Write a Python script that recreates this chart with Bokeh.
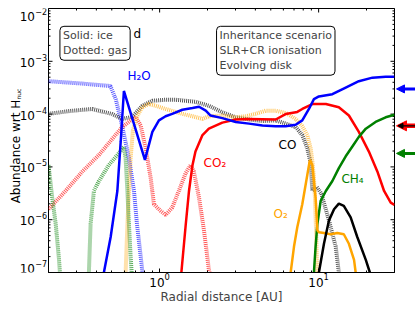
import math
from bokeh.plotting import figure
from bokeh.layouts import row
from bokeh.models import Label, Arrow, NormalHead, FixedTicker, Range1d
from bokeh.core.properties import value
from bokeh.embed import file_html
from bokeh.resources import INLINE

nan = float("nan")

# ---------------- data (radial distance in AU, abundance wrt H_nuc) ----------------
h2o_gas_r = [0.20, 0.32, 0.49, 0.53, 0.58, 0.64, 0.69, 0.72, 0.76, 0.78]
h2o_gas = [4.2e-4, 3.8e-4, 3.4e-4, 1.9e-4, 6.1e-5, 1.5e-5, 3.5e-6, 8.3e-7, 2.0e-7, 1.0e-7]

h2o_ice_r = [0.446, 0.492, 0.542, 0.569, 0.596, 0.808, 0.90, 0.99, 1.09, 1.20, 1.39, 1.61,
             1.77, 1.95, 2.09, 2.48, 3.01, 3.65, 4.43, 5.37, 6.2, 7.17, 7.89, 8.69, 9.34,
             10.04, 12.2, 14.8, 17.9, 21.8, 26.4, 30]
h2o_ice = [1e-7, 4.7e-7, 3.5e-6, 3.0e-5, 2.74e-4, 1.36e-5, 4.6e-5, 7.6e-5, 9.1e-5, 1.01e-4,
           1.21e-4, 1.31e-4, 1.38e-4, 1.16e-4, 9.4e-5, 8.4e-5, 7.1e-5, 6.6e-5, 6.1e-5, 5.9e-5,
           5.9e-5, 6.3e-5, 7.6e-5, 1.25e-4, 1.92e-4, 2.16e-4, 2.38e-4, 3.18e-4, 4.2e-4, 4.9e-4,
           5.1e-4, 5.1e-4]

co_gas_r = [0.2, 0.275, 0.377, 0.504, 0.582, 0.673, 0.778, 0.90, 1.09, 1.26, 1.68, 2.04, 2.48,
            3.01, 3.65, 4.43, 5.37, 6.2, 7.17, 7.89, 8.49, 8.91, 9.13, 9.71, 10.4, 11.6, 12.8, 13.4]
co_gas = [1.01e-4, 1.15e-4, 1.25e-4, 1.0e-4, 8.1e-5, 8.9e-5, 1.44e-4, 1.79e-4, 1.87e-4, 1.87e-4,
          1.71e-4, 1.44e-4, 1.08e-4, 8.7e-5, 7.9e-5, 7.4e-5, 7.6e-5, 6.6e-5, 5.7e-5, 4.0e-5,
          2.24e-5, 1.18e-5, 3.5e-6, 4.2e-6, 3.1e-6, 9.8e-7, 3.1e-7, 1e-7]

co_ice_r = [10.04, 10.8, 11.6, 12.5, 13.4, 14.4, 15.9, 17.5, 19.8, 21.0]
co_ice = [1e-7, 3.5e-7, 9.6e-7, 1.58e-6, 2.02e-6, 1.83e-6, 1.11e-6, 4.7e-7, 1.73e-7, 1e-7]

co2_gas_r = [0.2, 0.256, 0.327, 0.415, 0.504, 0.582, 0.657, 0.706, 0.760, 0.817, 0.878, 0.921,
             1.01, 1.09, 1.20, 1.32, 1.46, 1.57, 1.64, 1.77, 1.90, 2.04, 2.06]
co2_gas = [1.58e-6, 3.5e-6, 8.2e-6, 1.68e-5, 3.4e-5, 5.7e-5, 7.6e-5, 8.8e-5, 6.1e-5, 2.24e-5,
           6.2e-6, 1.96e-6, 1.48e-6, 1.23e-6, 1.7e-6, 3.5e-6, 7.7e-6, 1.09e-5, 8.2e-6, 2.6e-6,
           6.3e-7, 1.12e-7, 1e-7]

co2_ice_r = [1.37, 1.46, 1.53, 1.61, 1.68, 1.86, 2.04, 2.48, 3.01, 3.65, 5.37, 6.2, 7.34, 7.89,
             9.13, 11.1, 13.4, 15.5, 17.9, 20.7, 23.4, 25.8, 28.4, 30]
co2_ice = [1e-7, 8.2e-7, 3.5e-6, 1.09e-5, 1.95e-5, 4.0e-5, 5.3e-5, 6.9e-5, 7.9e-5, 8.1e-5, 7.9e-5,
           1.0e-4, 1.1e-4, 1.25e-4, 1.55e-4, 1.55e-4, 1.35e-4, 9.4e-5, 4.6e-5, 1.95e-5, 8.2e-6,
           3.5e-6, 2.1e-6, 1.9e-6]

o2_gas_r = [0.611, 0.627, 0.641, 0.657, 0.679, 0.724, 0.778, 0.857, 0.944, 1.09, 1.39, 1.61, 1.86,
            2.04, 2.48, 3.01, 3.47, 4.0, 4.64, 5.37, 6.2, 7.17, 7.89, 8.49, 8.91, 9.13, 9.34, 9.48,
            9.57, 9.67, 9.76]
o2_gas = [1e-7, 8.2e-7, 3.5e-6, 1.46e-5, 4.9e-5, 9.4e-5, 1.35e-4, 1.55e-4, 1.44e-4, 1.25e-4,
          1.01e-4, 9.1e-5, 8.1e-5, 9.1e-5, 9.4e-5, 8.7e-5, 9.1e-5, 1.01e-4, 1.16e-4, 1.16e-4,
          1.05e-4, 8.1e-5, 5.9e-5, 4.0e-5, 2.24e-5, 1.27e-5, 6.2e-6, 2.6e-6, 1.11e-6, 4.7e-7, 1e-7]

o2_ice_r = [6.67, 7.0, 7.34, 7.89, 8.49, 8.81, 9.13, 9.57, 9.82, 10.04, 10.8, 11.9, 13.1, 14.4,
            15.5, 16.7, 17.1]
o2_ice = [1e-7, 3.1e-7, 7.2e-7, 1.96e-6, 7.1e-6, 1.36e-5, 1.09e-5, 2.6e-6, 6.3e-7, 5.8e-7,
          5.6e-7, 5.3e-7, 5.6e-7, 5.3e-7, 3.5e-7, 1.73e-7, 1e-7]

ch4_gas_r = [0.2, 0.211, 0.222, 0.233, 0.236, nan, 0.359, 0.368, 0.386, 0.415, 0.48, 0.542,
             0.596, 0.611, 0.627, 0.641, 0.657, 0.667]
ch4_gas = [1.09e-5, 2.6e-6, 8.3e-7, 1.73e-7, 1e-7, nan, 1e-7, 8.3e-7, 3.5e-6, 5.4e-6, 1.09e-5,
           1.68e-5, 2.4e-5, 1.46e-5, 3.5e-6, 8.3e-7, 2.0e-7, 1e-7]

ch4_ice_r = [9.34, 9.57, 9.82, 10.3, 11.1, 12.2, 13.4, 14.8, 16.3, 17.9, 19.8, 22.8, 26.4, 30]
ch4_ice = [1e-7, 3.1e-7, 8.3e-7, 2.27e-6, 3.5e-6, 5.4e-6, 9.5e-6, 1.59e-5, 2.44e-5, 3.7e-5,
           5.3e-5, 7.1e-5, 8.7e-5, 9.7e-5]

# reference abundances marked by arrows on the right
ref_h2o = 3.0e-4
ref_co_co2 = 6.0e-5
ref_ch4 = 1.8e-5

x_lim = (0.2, 30)
y_lim = (1e-7, 1e-2)
x_major = [1, 10]
y_major = [1e-7, 1e-6, 1e-5, 1e-4, 1e-3, 1e-2]
y_tick_base = "10"
y_tick_exp = ["\u22127", "\u22126", "\u22125", "\u22124", "\u22123", "\u22122"]

FONT = "DejaVu Sans"
BLUE, RED, BLACK, ORANGE, GREEN = "#0000ff", "#ff0000", "#000000", "#ffa500", "#008000"

x_minor = [m * 10.0 ** e for e in (-1, 0, 1) for m in range(2, 10)
           if x_lim[0] <= m * 10.0 ** e <= x_lim[1]]
y_minor = [m * 10.0 ** e for e in range(-7, -2) for m in range(2, 10)]

H = 310
TOP, BOTTOM = 8, 38
LEFT_W, MAIN_W, RIGHT_W = 47, 348, 20

# ================= main plot =================
p = figure(width=MAIN_W, height=H, x_axis_type="log", y_axis_type="log",
           x_range=x_lim, y_range=y_lim, y_axis_location=None,
           output_backend="svg", toolbar_location=None,
           min_border_left=1, min_border_right=1, min_border_top=TOP, min_border_bottom=BOTTOM,
           background_fill_color="white", border_fill_color="white")
p.outline_line_color = "black"
p.outline_line_width = 1
p.grid.visible = False

xa = p.xaxis[0]
xa.ticker = FixedTicker(ticks=x_major, minor_ticks=x_minor)
xa.major_tick_in = 4
xa.major_tick_out = 0
xa.minor_tick_in = 2
xa.minor_tick_out = 0
xa.axis_line_color = "black"
xa.major_label_text_font = FONT
xa.major_label_text_font_size = "12px"
xa.major_label_text_color = "black"
xa.major_label_standoff = 0
xa.axis_label = "Radial distance [AU]"
xa.axis_label_text_font = FONT
xa.axis_label_text_font_size = "12px"
xa.axis_label_text_font_style = "normal"
xa.axis_label_standoff = 0

# inward tick marks on left, right and top frame edges (outer half of each dash is clipped)
TICK = dict(marker="dash", line_color="black", line_width=1)
for xe in x_lim:
    p.scatter([xe] * len(y_major), y_major, size=8, **TICK)
    p.scatter([xe] * len(y_minor), y_minor, size=4, **TICK)
p.scatter(x_major, [y_lim[1]] * len(x_major), angle=math.pi / 2, size=8, **TICK)
p.scatter(x_minor, [y_lim[1]] * len(x_minor), angle=math.pi / 2, size=4, **TICK)

# ---------------- curves: dotted = gas, solid = ice ----------------
GAS = dict(line_width=4, line_dash="1 1", line_alpha=0.65)
ICE = dict(line_width=2.5)

p.line(h2o_gas_r, h2o_gas, color=BLUE, **GAS)
p.line(co_gas_r, co_gas, color=BLACK, **GAS)
p.line(co2_gas_r, co2_gas, color=RED, **GAS)
p.line(o2_gas_r, o2_gas, color=ORANGE, **GAS)
p.line(ch4_gas_r, ch4_gas, color=GREEN, **GAS)

p.line(co2_ice_r, co2_ice, color=RED, **ICE)
p.line(ch4_ice_r, ch4_ice, color=GREEN, **ICE)
p.line(o2_ice_r, o2_ice, color=ORANGE, **ICE)
p.line(co_ice_r, co_ice, color=BLACK, **ICE)
p.line(h2o_ice_r, h2o_ice, color=BLUE, **ICE)

# ---------------- species labels ----------------
def species(x, y, txt, col, size="12px"):
    p.add_layout(Label(x=x, y=y, text=txt, text_color=col, text_font=FONT,
                       text_font_size=size, text_align="left", text_baseline="middle"))


species(0.628, 5.2e-4, "H\u2082O", BLUE)
species(1.89, 1.18e-5, "CO\u2082", RED)
species(5.6, 2.55e-5, "CO", BLACK)
species(13.9, 5.9e-6, "CH\u2084", GREEN)
species(5.21, 1.31e-6, "O\u2082", ORANGE)
species(0.684, 3.36e-3, "d", BLACK)

# ---------------- boxes ----------------
BOX = dict(text_font=FONT, text_font_size="11px", text_align="left", text_baseline="top",
           border_line_color="black", border_line_width=1, background_fill_color="white",
           padding=3, border_radius=4, text_line_height=1.15)
p.add_layout(Label(x=0.236, y=4.6e-3, text="Solid: ice\nDotted: gas", **BOX))
p.add_layout(Label(x=2.28, y=4.6e-3,
                   text="Inheritance scenario\nSLR+CR ionisation\nEvolving disk", **BOX))

# ================= left strip: y tick labels and y axis title =================
# (the row aligns this strip's frame with the main frame, so it shares the main y range)
left = figure(width=LEFT_W, height=H, x_range=Range1d(0, LEFT_W), y_range=p.y_range,
              y_axis_type="log", x_axis_location=None, y_axis_location=None,
              output_backend="svg", toolbar_location=None, min_border_left=0,
              min_border_right=0, min_border_top=TOP, min_border_bottom=BOTTOM,
              outline_line_color=None, background_fill_color="white", border_fill_color="white")
left.grid.visible = False

# the end labels are nudged inwards so that the strip's frame does not clip them
for i, (yv, ex) in enumerate(zip(y_major, y_tick_exp)):
    nudge = -5 if i == 0 else (7 if i == len(y_major) - 1 else 0)
    left.text(x=[34.5], y=[yv], text=[y_tick_base], text_align="right", text_baseline="middle",
              text_font=value(FONT), text_font_size="12px", text_color="black",
              y_offset=1 + nudge)
    left.text(x=[34.8], y=[yv], text=[ex], text_align="left", text_baseline="middle",
              text_font=value(FONT), text_font_size="8px", text_color="black",
              y_offset=-4 + nudge)

y_mid = math.sqrt(y_lim[0] * y_lim[1])
left.text(x=[15], y=[y_mid], text=["Abundance wrt H"], angle=math.pi / 2, y_offset=11,
          text_align="center", text_baseline="alphabetic", text_font=value(FONT),
          text_font_size="12px", text_color="black")
left.text(x=[17.5], y=[y_mid], text=["nuc"], angle=math.pi / 2, y_offset=-41,
          text_align="left", text_baseline="alphabetic", text_font=value(FONT),
          text_font_size="6px", text_color="black")

# ================= right strip: reference-value arrows =================
right = figure(width=RIGHT_W, height=H, x_range=Range1d(0, RIGHT_W), y_range=p.y_range,
               y_axis_type="log", x_axis_location=None, y_axis_location=None,
               output_backend="svg", toolbar_location=None, min_border_left=0,
               min_border_right=0, min_border_top=TOP, min_border_bottom=BOTTOM,
               outline_line_color=None, background_fill_color="white", border_fill_color="white")
right.grid.visible = False


def arrow(yv, col, w, size, x1=1.0):
    right.add_layout(Arrow(end=NormalHead(size=size, fill_color=col, line_color=col, line_width=1),
                           x_start=RIGHT_W, y_start=yv, x_end=x1, y_end=yv,
                           line_color=col, line_width=w))


arrow(ref_h2o, BLUE, 3, 8)
arrow(ref_co_co2, RED, 4.5, 10)
arrow(ref_co_co2, BLACK, 1.2, 5, x1=2.5)
arrow(ref_ch4, GREEN, 3, 8)

layout = row(left, p, right, spacing=0)
open("out.html", "w").write(file_html(layout, INLINE))
